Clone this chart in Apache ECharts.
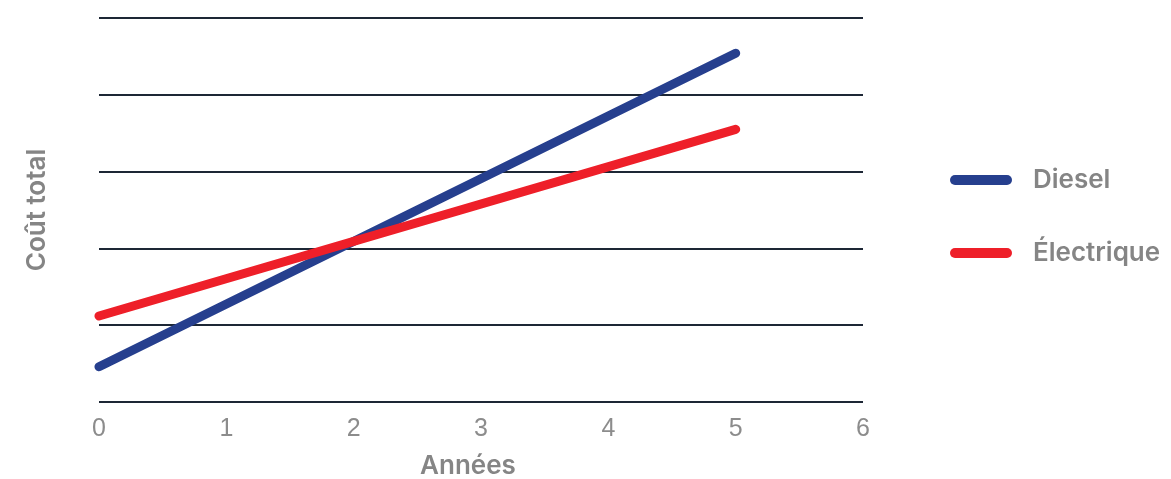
<!DOCTYPE html>
<html>
<head>
<meta charset="utf-8">
<script src="https://cdn.jsdelivr.net/npm/echarts@6/dist/echarts.min.js"></script>
<style>
  html, body { margin: 0; padding: 0; background: #fff; }
  #chart { width: 1171px; height: 479px; }
</style>
</head>
<body>
<div id="chart"></div>
<script>
// années (axe x) et coût total relatif (axe y, sans graduations)
var years = [0, 5];
var diesel = [0.46, 4.54];
var electrique = [1.12, 3.55];
var xTicks = [0, 1, 2, 3, 4, 5, 6];

var chart = echarts.init(document.getElementById('chart'));

function pairs(xs, ys) {
    return xs.map(function (x, i) { return [x, ys[i]]; });
}

var legendIcon = 'path://M5,0 L57,0 A5,5 0 0 1 57,10 L5,10 A5,5 0 0 1 5,0 Z';
var nameFont = 'Inter, Roboto, sans-serif';

chart.setOption({
    animation: false,
    textStyle: { fontFamily: 'Liberation Sans, sans-serif' },
    grid: {
        left: 99,
        right: 308,
        top: 18,
        bottom: 77,
        outerBoundsMode: 'none'
    },
    legend: {
        orient: 'vertical',
        left: 945,
        top: 162,
        itemWidth: 62,
        itemHeight: 10,
        itemGap: 47,
        icon: legendIcon,
        textStyle: {
            fontFamily: nameFont,
            fontSize: 26,
            color: '#858585',
            fontWeight: 600,
            padding: [0, 0, 0, 16]
        },
        data: ['Diesel', 'Électrique']
    },
    xAxis: {
        type: 'value',
        min: xTicks[0],
        max: xTicks[xTicks.length - 1],
        interval: 1,
        name: 'Années',
        nameLocation: 'middle',
        nameGap: 51,
        nameTextStyle: {
            fontFamily: nameFont,
            fontSize: 26,
            color: '#858585',
            fontWeight: 600,
            padding: [0, 26, 0, 0]
        },
        axisLine: { show: false },
        axisTick: { show: false },
        splitLine: { show: false },
        axisLabel: {
            fontSize: 25,
            color: '#8c8c8c',
            margin: 15
        }
    },
    yAxis: {
        type: 'value',
        min: 0,
        max: 5,
        interval: 1,
        name: 'Coût total',
        nameLocation: 'middle',
        nameGap: 49,
        nameTextStyle: {
            fontFamily: nameFont,
            fontSize: 26,
            color: '#858585',
            fontWeight: 600
        },
        axisLine: { show: false },
        axisTick: { show: false },
        axisLabel: { show: false },
        splitLine: {
            lineStyle: { color: '#1d2735', width: 2 }
        }
    },
    series: [
        {
            name: 'Diesel',
            type: 'line',
            data: pairs(years, diesel),
            showSymbol: false,
            color: '#263f8e',
            lineStyle: { width: 9, cap: 'round', color: '#263f8e' }
        },
        {
            name: 'Électrique',
            type: 'line',
            data: pairs(years, electrique),
            showSymbol: false,
            color: '#ee1f29',
            lineStyle: { width: 9, cap: 'round', color: '#ee1f29' }
        }
    ]
});

window.addEventListener('resize', function () { chart.resize(); });
</script>
</body>
</html>
